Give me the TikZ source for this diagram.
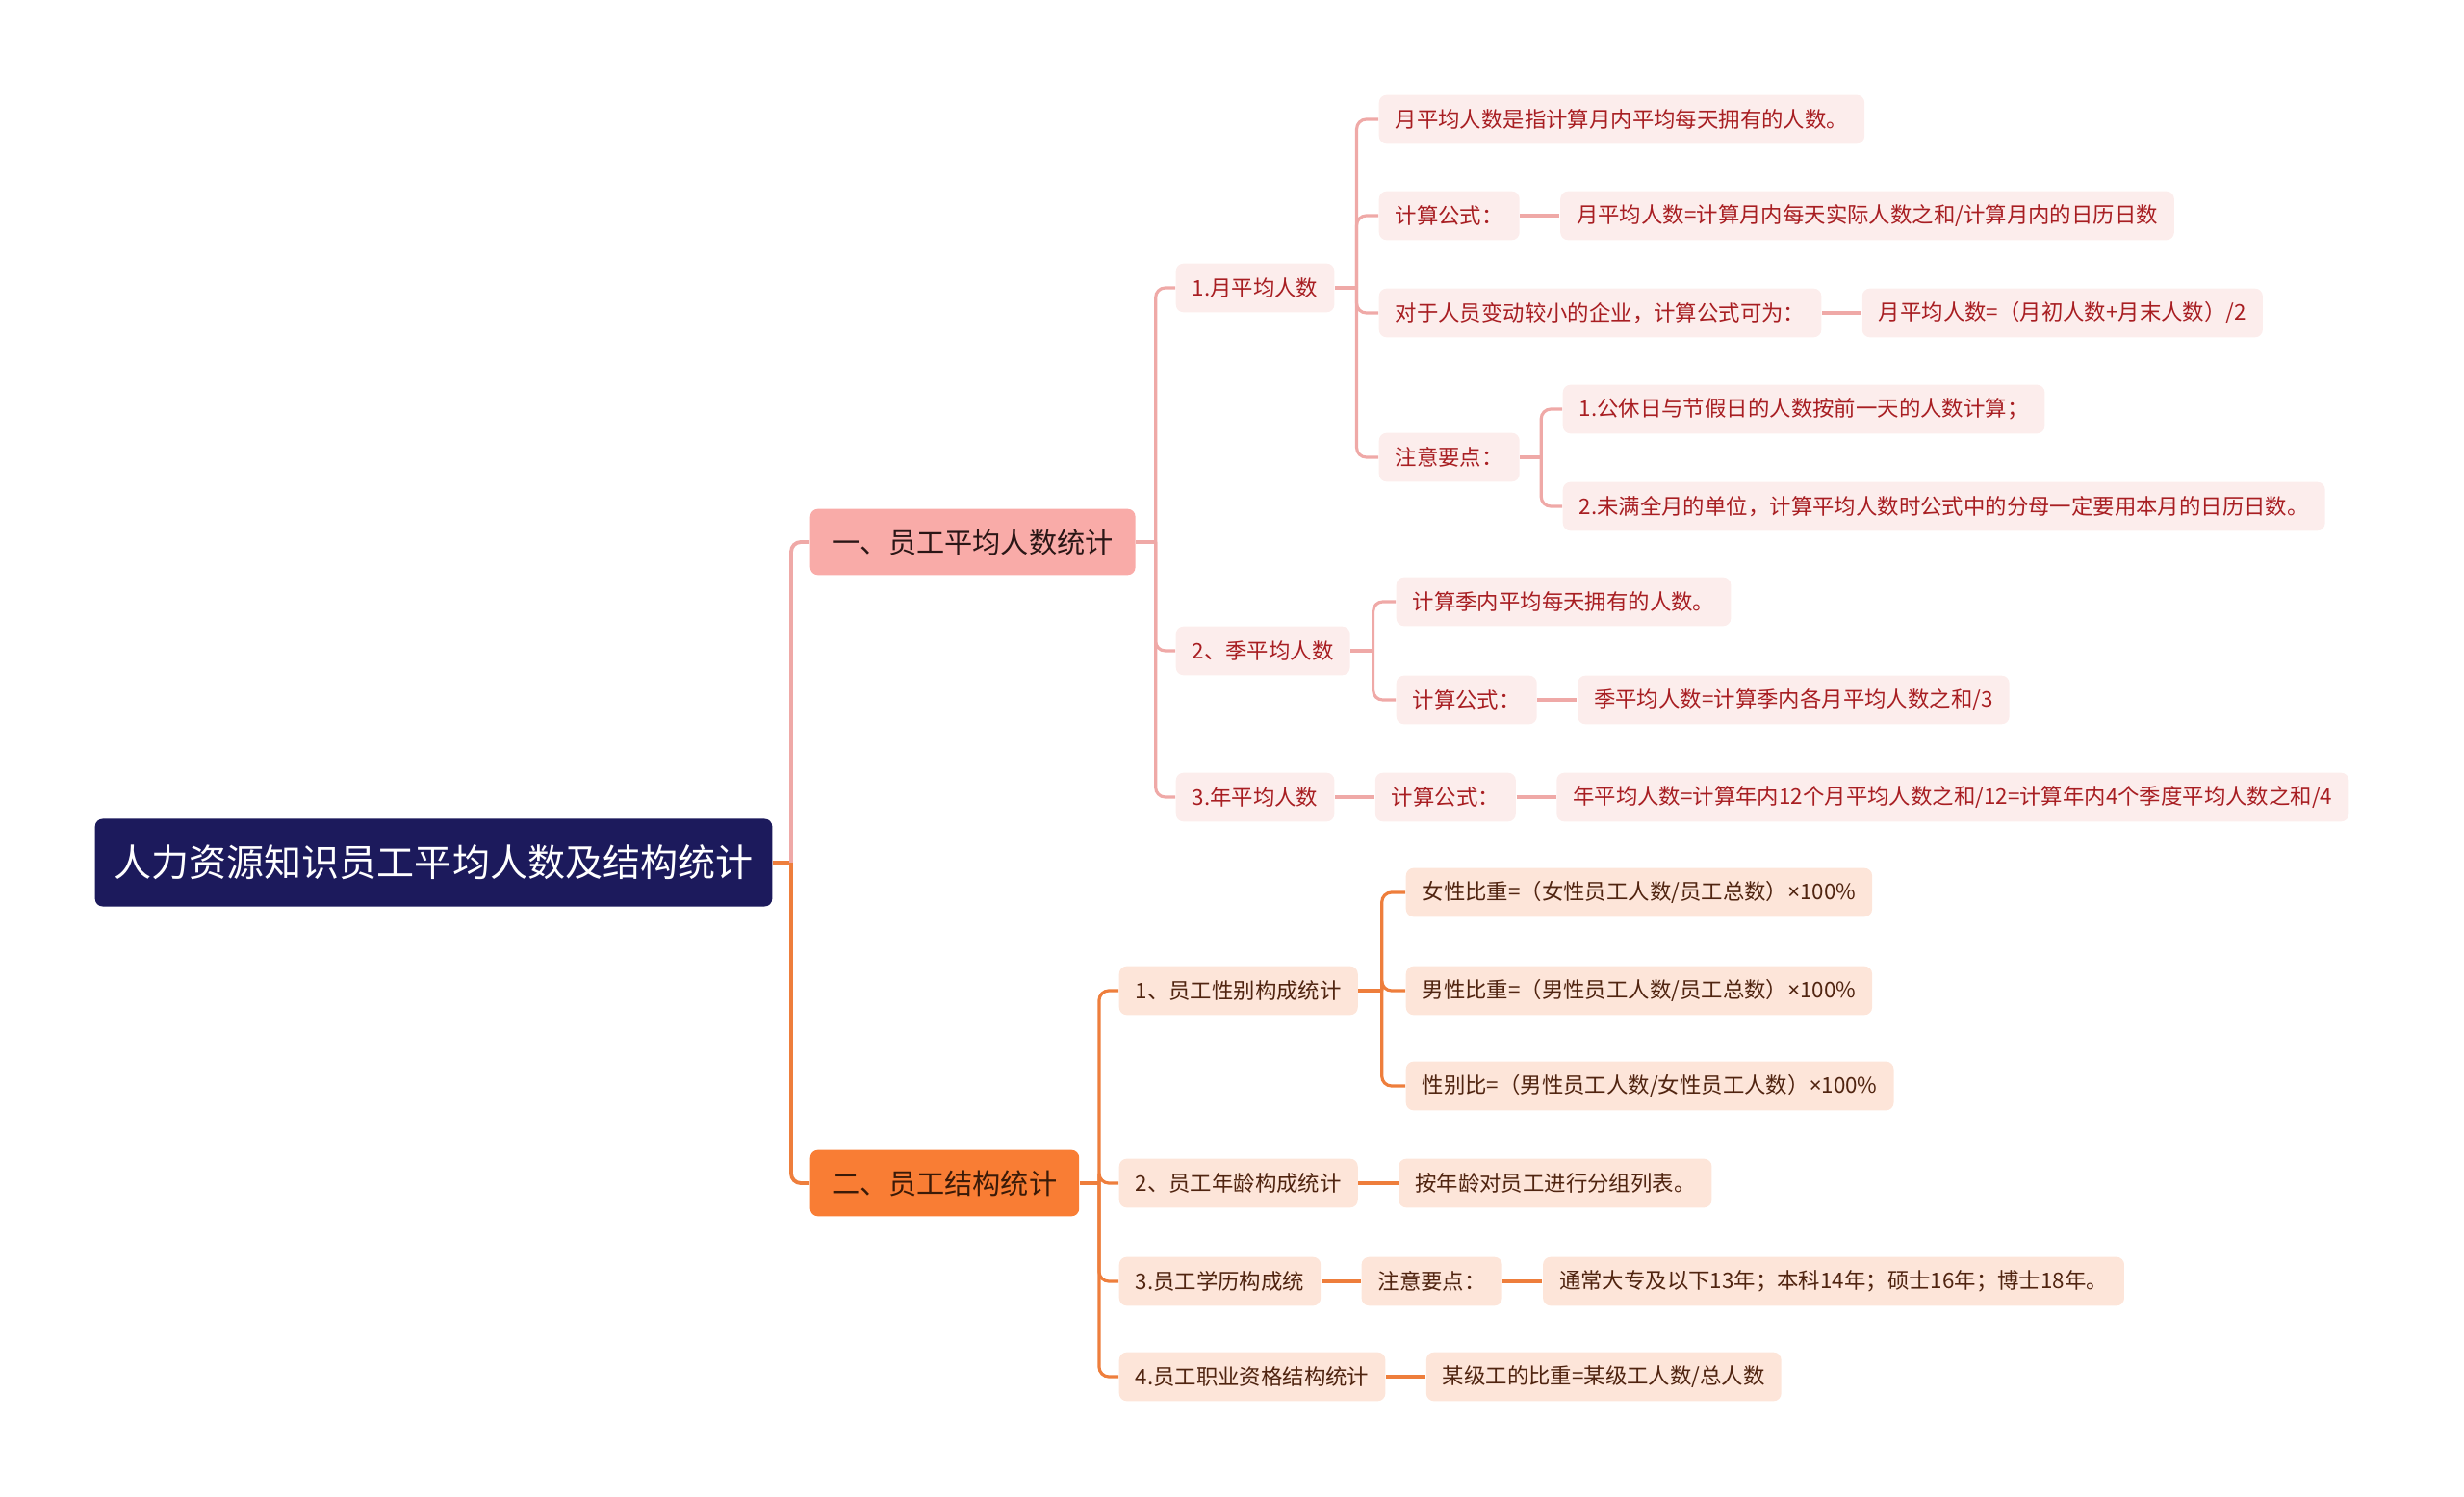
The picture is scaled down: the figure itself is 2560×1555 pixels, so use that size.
\documentclass[tikz,border=0pt]{standalone}
\usepackage{fontspec}
\setmainfont{Noto Sans CJK SC}
\newfontfamily\latinfont{Noto Sans}
\usetikzlibrary{calc, positioning}
\definecolor{rootnavy}{RGB}{28,26,92}
\definecolor{pinkmain}{RGB}{249,171,168}
\definecolor{pinksoft}{RGB}{252,237,236}
\definecolor{pinkline}{RGB}{239,169,167}
\definecolor{pinktext}{RGB}{168,30,34}
\definecolor{pinkdark}{RGB}{42,22,22}
\definecolor{orangemain}{RGB}{249,125,52}
\definecolor{orangesoft}{RGB}{253,229,217}
\definecolor{orangeline}{RGB}{238,126,60}
\definecolor{orangetext}{RGB}{80,36,16}
\definecolor{orangedark}{RGB}{58,26,8}
\newcommand{\timessign}{{\latinfont ×}}

\begin{document}
\begin{tikzpicture}[
  x=0.01cm, y=-0.01cm,
  root/.style={anchor=west, fill=rootnavy, text=white, rounded corners=0.08cm,
    font=\fontsize{11.1}{13}\selectfont, minimum height=0.91cm, inner xsep=0.2cm},
  pinkhead/.style={anchor=west, fill=pinkmain, text=pinkdark, rounded corners=0.08cm,
    font=\fontsize{8.3}{10}\selectfont, minimum height=0.686cm, inner xsep=0.23cm},
  orangehead/.style={anchor=west, fill=orangemain, text=orangedark, rounded corners=0.08cm,
    font=\fontsize{8.3}{10}\selectfont, minimum height=0.686cm, inner xsep=0.23cm},
  pinkleaf/.style={anchor=west, fill=pinksoft, text=pinktext, rounded corners=0.08cm,
    font=\fontsize{6.37}{8}\selectfont, minimum height=0.506cm, inner xsep=0.17cm},
  orangeleaf/.style={anchor=west, fill=orangesoft, text=orangetext, rounded corners=0.08cm,
    font=\fontsize{6.37}{8}\selectfont, minimum height=0.506cm, inner xsep=0.17cm},
  pinkwire/.style={draw=pinkline, line width=0.9pt, rounded corners=0.1cm},
  orangewire/.style={draw=orangeline, line width=0.9pt, rounded corners=0.1cm},
  node distance=0.41cm
]
\useasboundingbox (0,0) rectangle (2560,1555);

% root and the two main branches
\node[root] (root) at (98,896) {人力资源知识员工平均人数及结构统计};
\node[pinkhead] (avg) at (841,563) {一、员工平均人数统计};
\node[orangehead] (struct) at (841,1229) {二、员工结构统计};

% average headcount
\node[pinkleaf] (month) at (1221,299) {1.月平均人数};
\node[pinkleaf] (season) at (1221,676) {2、季平均人数};
\node[pinkleaf] (year) at (1221,828) {3.年平均人数};

\node[pinkleaf] (mdef) at (1432,124) {月平均人数是指计算月内平均每天拥有的人数。};
\node[pinkleaf] (mform) at (1432,224) {计算公式：};
\node[pinkleaf] (msmall) at (1432,325) {对于人员变动较小的企业，计算公式可为：};
\node[pinkleaf] (mnote) at (1432,475) {注意要点：};
\node[pinkleaf, right=of mform] (mformv) {月平均人数=计算月内每天实际人数之和/计算月内的日历日数};
\node[pinkleaf, right=of msmall] (msmallv) {月平均人数=（月初人数+月末人数）/2};
\node[pinkleaf] (mnote1) at (1623,425) {1.公休日与节假日的人数按前一天的人数计算；};
\node[pinkleaf] (mnote2) at (1623,526) {2.未满全月的单位，计算平均人数时公式中的分母一定要用本月的日历日数。};

\node[pinkleaf] (sdef) at (1450,625) {计算季内平均每天拥有的人数。};
\node[pinkleaf] (sform) at (1450,727) {计算公式：};
\node[pinkleaf, right=of sform] (sformv) {季平均人数=计算季内各月平均人数之和/3};

\node[pinkleaf, right=of year] (yform) {计算公式：};
\node[pinkleaf, right=of yform] (yformv) {年平均人数=计算年内12个月平均人数之和/12=计算年内4个季度平均人数之和/4};

% staff structure
\node[orangeleaf] (gender) at (1162,1029) {1、员工性别构成统计};
\node[orangeleaf] (age) at (1162,1229) {2、员工年龄构成统计};
\node[orangeleaf] (edu) at (1162,1331) {3.员工学历构成统};
\node[orangeleaf] (qual) at (1162,1430) {4.员工职业资格结构统计};

\node[orangeleaf] (gfemale) at (1460,927) {女性比重=（女性员工人数/员工总数）\timessign100\%};
\node[orangeleaf] (gmale) at (1460,1029) {男性比重=（男性员工人数/员工总数）\timessign100\%};
\node[orangeleaf] (gratio) at (1460,1128) {性别比=（男性员工人数/女性员工人数）\timessign100\%};
\node[orangeleaf, right=of age] (agev) {按年龄对员工进行分组列表。};
\node[orangeleaf, right=of edu] (edunote) {注意要点：};
\node[orangeleaf, right=of edunote] (eduv) {通常大专及以下13年；本科14年；硕士16年；博士18年。};
\node[orangeleaf, right=of qual] (qualv) {某级工的比重=某级工人数/总人数};

% junctions
\coordinate (rootbus) at ($(root.east)!0.5!(root.east -| avg.west)$);
\coordinate (avgbus) at ($(avg.east)!0.5!(avg.east -| month.west)$);
\coordinate (monthbus) at ($(month.east)!0.5!(month.east -| mdef.west)$);
\coordinate (notebus) at ($(mnote.east)!0.5!(mnote.east -| mnote1.west)$);
\coordinate (seasonbus) at ($(season.east)!0.5!(season.east -| sdef.west)$);
\coordinate (structbus) at ($(struct.east)!0.5!(struct.east -| gender.west)$);
\coordinate (genderbus) at ($(gender.east)!0.5!(gender.east -| gmale.west)$);

% connectors
\draw[orangeline, line width=1.1pt] (root.east) -- (rootbus);
\draw[pinkwire, line width=1.1pt] (rootbus) |- (avg.west);
\draw[orangewire, line width=1.1pt] (rootbus) |- (struct.west);

\draw[pinkwire] (avg.east) -- (avgbus);
\foreach \c in {month,season,year} \draw[pinkwire] (avgbus) |- (\c.west);
\draw[pinkwire] (month.east) -- (monthbus);
\foreach \c in {mdef,mform,msmall,mnote} \draw[pinkwire] (monthbus) |- (\c.west);
\draw[pinkwire] (mform) -- (mformv);
\draw[pinkwire] (msmall) -- (msmallv);
\draw[pinkwire] (mnote.east) -- (notebus);
\foreach \c in {mnote1,mnote2} \draw[pinkwire] (notebus) |- (\c.west);
\draw[pinkwire] (season.east) -- (seasonbus);
\foreach \c in {sdef,sform} \draw[pinkwire] (seasonbus) |- (\c.west);
\draw[pinkwire] (sform) -- (sformv);
\draw[pinkwire] (year) -- (yform);
\draw[pinkwire] (yform) -- (yformv);

\draw[orangewire] (struct.east) -- (structbus);
\foreach \c in {gender,age,edu,qual} \draw[orangewire] (structbus) |- (\c.west);
\draw[orangewire] (gender.east) -- (genderbus);
\foreach \c in {gfemale,gmale,gratio} \draw[orangewire] (genderbus) |- (\c.west);
\draw[orangewire] (age) -- (agev);
\draw[orangewire] (edu) -- (edunote);
\draw[orangewire] (edunote) -- (eduv);
\draw[orangewire] (qual) -- (qualv);
\end{tikzpicture}
\end{document}
